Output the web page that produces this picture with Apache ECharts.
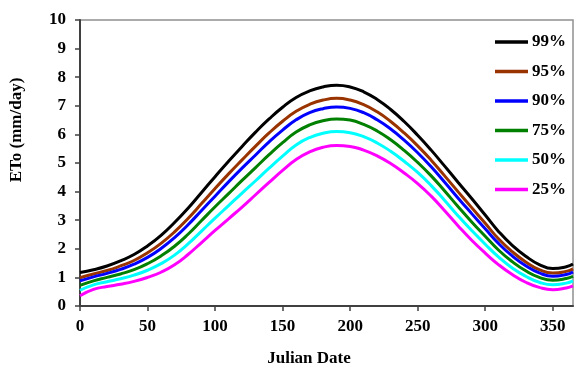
<!DOCTYPE html>
<html>
<head>
<meta charset="utf-8">
<script src="https://cdn.jsdelivr.net/npm/echarts@6/dist/echarts.min.js"></script>
<style>html,body{margin:0;padding:0;background:#fff}#c{width:575px;height:370px}</style>
</head>
<body>
<div id="c"></div>
<script>
const days = [0,10,20,30,40,50,60,70,80,90,100,110,120,130,140,150,160,170,180,190,200,210,220,230,240,250,260,270,280,290,300,310,320,330,340,350,360,365];
const p99 = [1.17,1.27,1.40,1.58,1.80,2.10,2.47,2.92,3.42,3.97,4.52,5.06,5.58,6.08,6.54,6.95,7.29,7.52,7.66,7.72,7.66,7.49,7.22,6.87,6.45,5.97,5.45,4.89,4.32,3.76,3.18,2.60,2.12,1.74,1.45,1.31,1.37,1.47];
const p95 = [0.99,1.12,1.24,1.40,1.59,1.86,2.19,2.59,3.06,3.58,4.11,4.62,5.11,5.59,6.05,6.46,6.81,7.05,7.20,7.26,7.20,7.04,6.79,6.45,6.05,5.60,5.10,4.55,3.99,3.44,2.89,2.34,1.90,1.54,1.27,1.15,1.21,1.30];
const p90 = [0.88,1.02,1.14,1.28,1.46,1.70,2.01,2.39,2.84,3.34,3.84,4.34,4.82,5.28,5.74,6.15,6.51,6.76,6.90,6.96,6.91,6.76,6.51,6.19,5.80,5.36,4.87,4.33,3.77,3.23,2.70,2.18,1.75,1.41,1.16,1.04,1.10,1.19];
const p75 = [0.72,0.88,1.00,1.12,1.27,1.48,1.75,2.09,2.51,2.99,3.47,3.93,4.39,4.84,5.29,5.71,6.08,6.33,6.48,6.54,6.50,6.35,6.12,5.81,5.44,5.02,4.55,4.02,3.47,2.94,2.44,1.95,1.55,1.23,1.00,0.90,0.96,1.04];
const p50 = [0.55,0.74,0.85,0.95,1.08,1.25,1.48,1.78,2.17,2.62,3.07,3.51,3.95,4.38,4.82,5.24,5.63,5.89,6.04,6.10,6.06,5.92,5.70,5.41,5.06,4.67,4.21,3.69,3.15,2.64,2.16,1.71,1.33,1.04,0.83,0.74,0.80,0.88];
const p25 = [0.36,0.58,0.68,0.76,0.86,1.00,1.18,1.44,1.80,2.22,2.64,3.05,3.46,3.89,4.32,4.74,5.12,5.39,5.55,5.61,5.58,5.45,5.25,4.98,4.65,4.28,3.84,3.33,2.80,2.30,1.85,1.44,1.10,0.83,0.65,0.57,0.63,0.70];
const seriesNames = ['99%','95%','90%','75%','50%','25%'];
const seriesData = [p99,p95,p90,p75,p50,p25];
const colors = ['#000000','#993300','#0000ff','#008000','#00ffff','#ff00ff'];
const xTitle = 'Julian Date';
const yTitle = 'ETo (mm/day)';

const font = '"Liberation Serif","Times New Roman",serif';
const chart = echarts.init(document.getElementById('c'), null, {renderer:'canvas'});
chart.setOption({
  animation:false,
  backgroundColor:'#fff',
  grid:{left:80,right:2,top:20,bottom:64,show:true,borderColor:'#909090',borderWidth:1.5},
  legend:{
    orient:'vertical', left:490, top:28.5, itemWidth:33, itemHeight:3.5, itemGap:12.5,
    data:seriesNames.map((n,i)=>({name:n,icon:'rect',itemStyle:{color:colors[i]}})),
    textStyle:{fontFamily:font,fontWeight:'bold',fontSize:17,lineHeight:17,color:'#000',padding:[0,0,0,-1]}
  },
  xAxis:{
    type:'value', min:0, max:365, interval:50,
    axisLine:{show:true,lineStyle:{color:'#404040',width:2}},
    axisTick:{show:true,inside:false,length:5,lineStyle:{color:'#404040',width:1.5}},
    splitLine:{show:false},
    axisLabel:{fontFamily:font,fontWeight:'bold',fontSize:17,color:'#000',margin:12,showMaxLabel:false}
  },
  yAxis:{
    type:'value', min:0, max:10, interval:1,
    axisLine:{show:true,lineStyle:{color:'#404040',width:2}},
    axisTick:{show:true,inside:false,length:5,lineStyle:{color:'#404040',width:1.5}},
    splitLine:{show:false},
    axisLabel:{fontFamily:font,fontWeight:'bold',fontSize:17,color:'#000',margin:14}
  },
  graphic:[
    {type:'text',x:309,y:359,style:{text:xTitle,font:'bold 17px '+font,fill:'#000',textAlign:'center',textVerticalAlign:'middle'}},
    {type:'text',x:16.5,y:130,rotation:Math.PI/2,style:{text:yTitle,font:'bold 17px '+font,fill:'#000',textAlign:'center',textVerticalAlign:'middle'}}
  ],
  series:seriesNames.map((n,i)=>({
    name:n, type:'line', smooth:0.5, symbol:'none',
    data:days.map((d,j)=>[d,seriesData[i][j]]),
    lineStyle:{color:colors[i],width:3},
    itemStyle:{color:colors[i]}
  }))
});
</script>
</body>
</html>
